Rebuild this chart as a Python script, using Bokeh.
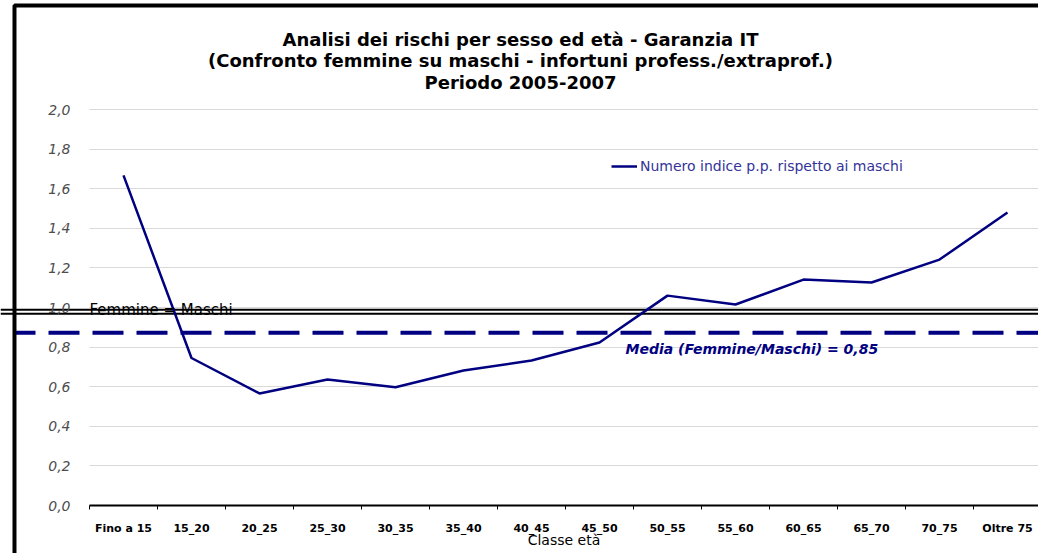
from bokeh.plotting import figure
from bokeh.models import (Range1d, LinearAxis, FixedTicker, Grid, Span, Label,
                          Legend, LegendItem, CustomJSTickFormatter, BoxAnnotation)
from bokeh.embed import file_html
from bokeh.resources import INLINE

# ---- data ----
categories = ["Fino a 15", "15_20", "20_25", "25_30", "30_35", "35_40", "40_45",
              "45_50", "50_55", "55_60", "60_65", "65_70", "70_75", "Oltre 75"]
indice = [1.667, 0.745, 0.566, 0.636, 0.597, 0.682, 0.732,
          0.823, 1.060, 1.015, 1.141, 1.126, 1.242, 1.480]
y_ticks = [0.0, 0.2, 0.4, 0.6, 0.8, 1.0, 1.2, 1.4, 1.6, 1.8, 2.0]
series_name = "Numero indice p.p. rispetto ai maschi"
title_lines = ["Analisi dei rischi per sesso ed età - Garanzia IT",
               "(Confronto femmine su maschi - infortuni profess./extraprof.)",
               "Periodo 2005-2007"]
parity_label = "Femmine = Maschi"
media_label = "Media (Femmine/Maschi) = 0,85"
x_title = "Classe età"

FONT = "DejaVu Sans"
NAVY = "#000080"

n = len(categories)
xs = [i + 0.5 for i in range(n)]
border_x = -1.103

p = figure(width=1038, height=553, output_backend="svg", toolbar_location=None,
           x_axis_type=None, y_axis_type=None,
           x_range=Range1d(-1.3088, 13.956), y_range=Range1d(-0.2424, 2.5505),
           min_border=0, outline_line_color=None, background_fill_color="white",
           border_fill_color="white")
p.xgrid.visible = False
p.ygrid.visible = False

y_ticker = FixedTicker(ticks=y_ticks)
grid = Grid(dimension=1, ticker=y_ticker, cross_bounds=(0, n),
            grid_line_color="#d9d9d9", grid_line_width=1)
p.add_layout(grid)

# reference lines
for loc in (0.9884, 0.9682):
    p.add_layout(Span(location=loc, dimension="width", line_color="black",
                      line_width=2, level="underlay"))
p.add_layout(Span(location=0.8722, dimension="width", line_color=NAVY,
                  line_width=4, line_dash="31 13", line_dash_offset=40,
                  level="underlay"))
# the dashed line starts at the chart-area border
p.add_layout(BoxAnnotation(right=border_x, bottom=0.85, top=0.895,
                           fill_color="white", fill_alpha=1.0, line_alpha=0,
                           level="annotation"))

line = p.line(xs, indice, line_color=NAVY, line_width=2.5)

# axes
xaxis = LinearAxis(fixed_location=0, bounds=(0, n),
                   ticker=FixedTicker(ticks=xs, minor_ticks=list(range(n + 1))),
                   major_label_overrides={x: c for x, c in zip(xs, categories)},
                   axis_line_color="black", axis_line_width=2,
                   major_tick_out=0, major_tick_in=0,
                   minor_tick_out=4, minor_tick_in=0,
                   minor_tick_line_color="black", minor_tick_line_width=1,
                   major_label_standoff=12,
                   major_label_text_font=FONT, major_label_text_font_style="bold",
                   major_label_text_font_size="11px", major_label_text_color="black",
                   axis_label=x_title, axis_label_standoff=-6,
                   axis_label_text_font=FONT, axis_label_text_font_style="normal",
                   axis_label_text_font_size="14px", axis_label_text_color="black")
p.add_layout(xaxis, "below")

yaxis = LinearAxis(fixed_location=0, ticker=y_ticker,
                   formatter=CustomJSTickFormatter(code="return tick.toFixed(1).replace('.', ',');"),
                   axis_line_color=None, major_tick_line_color=None,
                   minor_tick_line_color=None, major_label_standoff=13,
                   major_label_text_font=FONT, major_label_text_font_style="italic",
                   major_label_text_font_size="14px", major_label_text_color="#4d4d4d")
p.add_layout(yaxis, "left")

# texts
for txt, yv in zip(title_lines, (2.356, 2.247, 2.136)):
    p.add_layout(Label(x=6.338, y=yv, text=txt, text_align="center",
                       text_baseline="middle", text_font=FONT,
                       text_font_style="bold", text_font_size="18px",
                       text_color="black"))
p.add_layout(Label(x=0, y=0.985, text=parity_label, text_align="left",
                   text_baseline="alphabetic", text_font=FONT,
                   text_font_size="15px", text_color="black"))
p.add_layout(Label(x=7.882, y=0.790, text=media_label, text_align="left",
                   text_baseline="middle", text_font=FONT,
                   text_font_style="bold italic", text_font_size="14px",
                   text_color=NAVY))

legend = Legend(items=[LegendItem(label=series_name, renderers=[line])],
                location=(611, 377), padding=0, margin=0, border_line_color=None,
                background_fill_alpha=0, glyph_width=26, glyph_height=20,
                label_height=20, label_standoff=3,
                label_text_font=FONT, label_text_font_size="14px",
                label_text_color="#333399")
p.add_layout(legend)

# chart-area border (right and bottom sides fall outside the picture)
p.add_layout(BoxAnnotation(left=border_x, right=14.3, top=2.5253, bottom=-0.35,
                           fill_alpha=0, line_color="black", line_alpha=1.0,
                           line_width=4, level="overlay"))

open("out.html", "w").write(file_html(p, INLINE))
